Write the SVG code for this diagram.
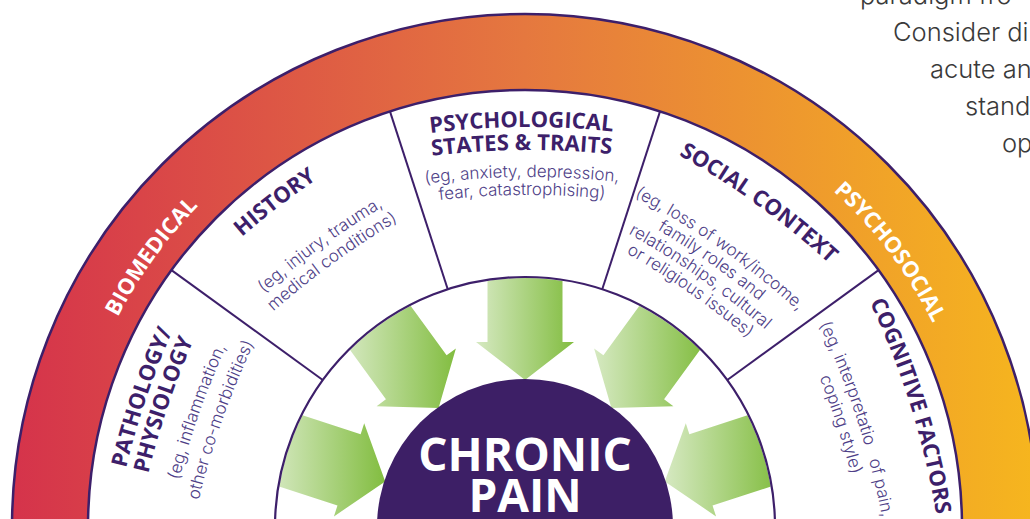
<svg xmlns="http://www.w3.org/2000/svg" width="1030" height="519" viewBox="0 0 1030 519">
<defs>
  <linearGradient id="ringGrad" gradientUnits="userSpaceOnUse" x1="12" y1="0" x2="1038" y2="0">
    <stop offset="0" stop-color="#d5334b"/>
    <stop offset="0.5" stop-color="#e5783f"/>
    <stop offset="1" stop-color="#f6b61e"/>
  </linearGradient>
  <linearGradient id="arrowGrad" x1="0" y1="0" x2="1" y2="0">
    <stop offset="0" stop-color="#d6e9c2"/>
    <stop offset="1" stop-color="#82bd40"/>
  </linearGradient>
  <clipPath id="innerClip"><circle cx="525" cy="527" r="249"/></clipPath>
  <path id="tp" d="M -178.49 -379.83 A 800 800 0 0 1 178.49 -379.83"/>
  <path id="rp" d="M -147.33 -433.66 A 458 458 0 0 1 147.33 -433.66"/>
  <style>
    .title { font-family: "Open Sans", "Liberation Sans", sans-serif; font-weight: 700; font-size: 22px; fill: #3d1f6a; text-anchor: middle; }
    .body { font-family: Inter, "Open Sans", "Liberation Sans", sans-serif; font-weight: 300; font-size: 17px; fill: #4f3f88; text-anchor: middle; }
    .ringlabel { font-family: "Open Sans", "Liberation Sans", sans-serif; font-weight: 700; font-size: 22px; fill: #ffffff; text-anchor: middle; }
    .center { font-family: "Open Sans", "Liberation Sans", sans-serif; font-weight: 700; font-size: 46px; fill: #ffffff; text-anchor: middle; }
    .page { font-family: Inter, "Open Sans", "Liberation Sans", sans-serif; font-weight: 300; font-size: 25.5px; fill: #3a3a3a; }
    .edge { fill: none; stroke: #3d1f6a; stroke-width: 2.5; }
    .sep { stroke: #3d1f6a; stroke-width: 2; }
    .arrow { fill: url(#arrowGrad); }
  </style>
</defs>

<g id="page-text">
  <text class="page" x="860" y="4">paradigm fro</text>
  <text class="page" x="893" y="41">Consider di</text>
  <text class="page" x="930" y="78">acute an</text>
  <text class="page" x="965" y="115">stand</text>
  <text class="page" x="1002" y="152">op</text>
</g>

<g id="ring">
  <circle cx="525" cy="527" r="475" fill="none" stroke="url(#ringGrad)" stroke-width="76"/>
  <circle class="edge" cx="525" cy="527" r="513"/>
  <circle class="edge" cx="525" cy="527" r="437"/>
  <text class="ringlabel" transform="translate(525 527) rotate(-54.1)"><textPath href="#rp" startOffset="50%">BIOMEDICAL</textPath></text>
  <text class="ringlabel" transform="translate(525 527) rotate(53) translate(0 2)"><textPath href="#rp" startOffset="50%">PSYCHOSOCIAL</textPath></text>
</g>

<g id="wheel-structure">
  <line class="sep" x1="727.25" y1="380.05" x2="878.54" y2="270.14"/>
  <line class="sep" x1="602.25" y1="289.24" x2="660.04" y2="111.39"/>
  <line class="sep" x1="447.75" y1="289.24" x2="389.96" y2="111.39"/>
  <line class="sep" x1="322.75" y1="380.05" x2="171.46" y2="270.14"/>
</g>

<g id="segment-pathology">
  <text class="title" transform="translate(525 527) rotate(-71.3)"><textPath href="#tp" startOffset="50%">PATHOLOGY/</textPath></text>
  <text class="title" transform="translate(525 527) rotate(-71.3) translate(0 23)"><textPath href="#tp" startOffset="50%">PHYSIOLOGY</textPath></text>
  <text class="body" transform="translate(525 527) rotate(-70.6) translate(0 55)"><textPath href="#tp" startOffset="50%">(eg, inflammation,</textPath></text>
  <text class="body" transform="translate(525 527) rotate(-70.6) translate(0 79)"><textPath href="#tp" startOffset="50%">other co-morbidities)</textPath></text>
</g>

<g id="segment-history">
  <text class="title" transform="translate(525 527) rotate(-37.6) translate(0 -4)"><textPath href="#tp" startOffset="50%">HISTORY</textPath></text>
  <text class="body" transform="translate(525 527) rotate(-36) translate(0 54)"><textPath href="#tp" startOffset="50%">(eg, injury, trauma,</textPath></text>
  <text class="body" transform="translate(525 527) rotate(-36) translate(0 74)"><textPath href="#tp" startOffset="50%">medical conditions)</textPath></text>
</g>

<g id="segment-psychological">
  <text class="title" transform="translate(525 527) rotate(-0.5)"><textPath href="#tp" startOffset="50%">PSYCHOLOGICAL</textPath></text>
  <text class="title" transform="translate(525 527) rotate(-0.5) translate(0 23)"><textPath href="#tp" startOffset="50%">STATES &amp; TRAITS</textPath></text>
  <text class="body" transform="translate(525 527) rotate(-0.5) translate(0 50)"><textPath href="#tp" startOffset="50%">(eg, anxiety, depression,</textPath></text>
  <text class="body" transform="translate(525 527) rotate(-0.5) translate(0 68)"><textPath href="#tp" startOffset="50%">fear, catastrophising)</textPath></text>
</g>

<g id="segment-social">
  <text class="title" transform="translate(525 527) rotate(35.8) translate(0 3)"><textPath href="#tp" startOffset="50%">SOCIAL CONTEXT</textPath></text>
  <text class="body" transform="translate(525 527) rotate(35) translate(0 60)"><textPath href="#tp" startOffset="50%">(eg, loss of work/income,</textPath></text>
  <text class="body" transform="translate(525 527) rotate(35) translate(0 78)"><textPath href="#tp" startOffset="50%">family roles and</textPath></text>
  <text class="body" transform="translate(525 527) rotate(35) translate(0 96)"><textPath href="#tp" startOffset="50%">relationships, cultural</textPath></text>
  <text class="body" transform="translate(525 527) rotate(35) translate(0 114)"><textPath href="#tp" startOffset="50%">or religious issues)</textPath></text>
</g>

<g id="segment-cognitive">
  <text class="title" transform="translate(525 527) rotate(72.6) translate(0 -4)"><textPath href="#tp" startOffset="50%">COGNITIVE FACTORS</textPath></text>
  <text class="body" transform="translate(525 527) rotate(72) translate(0 51)"><textPath href="#tp" startOffset="50%">(eg, interpretatio&#160;&#160;&#160;of pain,</textPath></text>
  <text class="body" transform="translate(525 527) rotate(72) translate(0 72)"><textPath href="#tp" startOffset="50%">coping style)</textPath></text>
</g>

<g id="connectors" clip-path="url(#innerClip)">
  <polygon class="arrow" points="487.5,272 487.5,342 476,342 525,380 574,342 562.5,342 562.5,272"/>
  <polygon class="arrow" points="344.78,342.74 385.92,399.37 376.62,406.13 438.60,408.07 455.90,348.53 446.60,355.29 405.45,298.66"/>
  <polygon class="arrow" points="705.22,342.74 664.08,399.37 673.38,406.13 611.40,408.07 594.10,348.53 603.40,355.29 644.55,298.66"/>
  <polygon class="arrow" points="270.89,483.87 337.47,505.50 333.91,516.43 385.20,481.57 364.20,423.23 360.64,434.17 294.07,412.54"/>
  <polygon class="arrow" points="779.11,483.87 712.53,505.50 716.09,516.43 664.80,481.57 685.80,423.23 689.36,434.17 755.93,412.54"/>
</g>

<g id="inner-circle">
  <circle cx="525" cy="527" r="250" fill="none" stroke="#3d1f6a" stroke-width="2.2"/>
</g>

<g id="chronic-pain">
  <circle cx="525" cy="527" r="148" fill="#3d1f66"/>
  <text class="center" x="525" y="471">CHRONIC</text>
  <text class="center" x="525" y="512">PAIN</text>
</g>
</svg>
